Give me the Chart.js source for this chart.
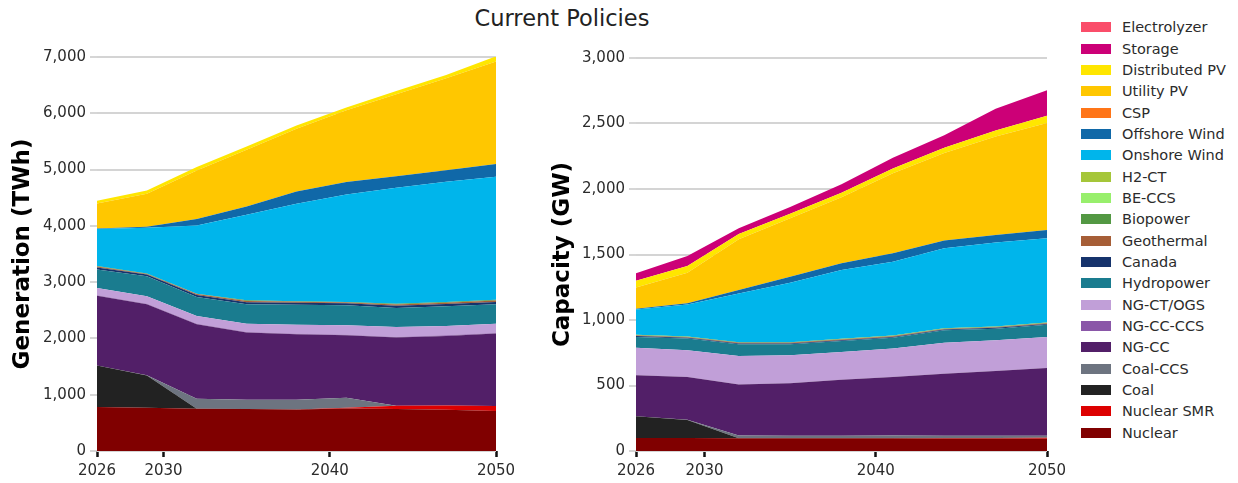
<!DOCTYPE html>
<html>
<head>
<meta charset="utf-8">
<script src="https://cdn.jsdelivr.net/npm/chart.js@4.4.1/dist/chart.umd.min.js"></script>
<style>
  html, body { margin: 0; padding: 0; background: #ffffff; }
  #wrap { position: relative; width: 1238px; height: 483px; overflow: hidden; font-family: "DejaVu Sans", sans-serif; }
  #title { position: absolute; left: 362px; width: 400px; top: 4px; text-align: center; font-size: 22.5px; color: #222; line-height: 28px; }
  #genCanvas { position: absolute; left: 0; top: 0; }
  #capCanvas { position: absolute; left: 540px; top: 0; }
  #legend { position: absolute; left: 1080px; top: 0; }
  .item { position: absolute; left: 0; height: 20px; white-space: nowrap; }
  .box { position: absolute; left: 1px; top: 5px; width: 30px; height: 10px; }
  .lbl { position: absolute; left: 42px; top: 0; font-size: 14.5px; line-height: 20px; color: #2b2b2b; }
</style>
</head>
<body>
<div id="wrap">
  <div id="title">Current Policies</div>
  <canvas id="genCanvas" width="540" height="483"></canvas>
  <canvas id="capCanvas" width="540" height="483"></canvas>
  <div id="legend"></div>
</div>
<script>
// ---------- DATA ----------
const years = [2026, 2029, 2032, 2035, 2038, 2041, 2044, 2047, 2050];
const xTicks = [2026, 2030, 2040, 2050];
const genTicksMax = 7000;
const capTicksMax = 3000;

// series, bottom to top
const seriesNames = ["Nuclear", "Nuclear SMR", "Coal", "Coal-CCS", "NG-CC", "NG-CC-CCS", "NG-CT/OGS",
  "Hydropower", "Canada", "Geothermal", "Biopower", "BE-CCS", "H2-CT", "Onshore Wind", "Offshore Wind",
  "CSP", "Utility PV", "Distributed PV", "Storage", "Electrolyzer"];
const seriesColors = ["#800000", "#dd0000", "#222222", "#6d7480", "#521f68", "#8a57a8", "#c19fd8",
  "#1a7c8f", "#16336c", "#a65e37", "#539843", "#98ef6c", "#a5c639", "#00b5eb", "#1068a8",
  "#ff7518", "#ffc700", "#ffe600", "#cc0077", "#fa4d6a"];

// Generation (TWh)
const genNuclear      = [780, 768, 750, 744, 738, 756, 744, 732, 709];
const genNuclearSMR   = [0, 0, 0, 0, 0, 12, 60, 77, 89];
const genCoal         = [741, 575, 0, 0, 0, 0, 0, 0, 0];
const genCoalCCS      = [0, 5, 178, 166, 172, 178, 0, 0, 0];
const genNGCC         = [1236, 1260, 1324, 1194, 1164, 1111, 1211, 1236, 1288];
const genNGCCCCS      = [10, 10, 10, 10, 10, 10, 10, 10, 10];
const genNGCT         = [130, 130, 137, 149, 161, 166, 178, 166, 167];
const genHydro        = [326, 356, 338, 343, 355, 355, 338, 350, 343];
const genCanada       = [35, 30, 35, 38, 35, 35, 40, 40, 42];
const genGeothermal   = [18, 12, 16, 20, 16, 17, 22, 22, 25];
const genBiopower     = [12, 6, 8, 13, 8, 8, 15, 15, 16];
const genBECCS        = [0, 0, 0, 0, 0, 0, 0, 0, 0];
const genH2CT         = [0, 0, 0, 0, 0, 0, 0, 0, 0];
const genOnshore      = [658, 813, 1210, 1519, 1733, 1911, 2058, 2135, 2183];
const genOffshore     = [5, 18, 118, 148, 219, 219, 207, 207, 226];
const genCSP          = [0, 0, 0, 0, 0, 0, 0, 0, 0];
const genUtilityPV    = [446, 587, 860, 1008, 1114, 1274, 1453, 1631, 1820];
const genDistPV       = [47, 60, 60, 60, 60, 50, 60, 60, 94];
const genStorage      = [0, 0, 0, 0, 0, 0, 0, 0, 0];
const genElectrolyzer = [0, 0, 0, 0, 0, 0, 0, 0, 0];

// Capacity (GW)
const capNuclear      = [100, 100, 98, 97, 97, 97, 96, 95, 94];
const capNuclearSMR   = [0, 0, 0, 0, 0, 1, 3, 5, 7];
const capCoal         = [166, 136, 0, 0, 0, 0, 0, 0, 0];
const capCoalCCS      = [0, 2, 20, 20, 20, 20, 18, 17, 16];
const capNGCC         = [313, 326, 390, 401, 427, 446, 472, 493, 516];
const capNGCCCCS      = [2, 2, 2, 2, 2, 2, 2, 2, 2];
const capNGCT         = [208, 203, 216, 211, 210, 216, 236, 233, 236];
const capHydro        = [82, 89, 89, 84, 84, 83, 94, 89, 93];
const capCanada       = [6, 6, 6, 6, 6, 6, 6, 6, 6];
const capGeothermal   = [5, 5, 5, 5, 5, 5, 5, 5, 5];
const capBiopower     = [4, 4, 4, 4, 4, 4, 4, 4, 4];
const capBECCS        = [0, 0, 0, 0, 0, 0, 0, 0, 0];
const capH2CT         = [1, 1, 1, 1, 1, 1, 1, 1, 1];
const capOnshore      = [194, 245, 372, 454, 526, 564, 610, 641, 644];
const capOffshore     = [5, 8, 26, 46, 51, 64, 59, 58, 63];
const capCSP          = [0, 0, 0, 0, 0, 0, 0, 0, 0];
const capUtilityPV    = [163, 234, 387, 446, 504, 612, 668, 752, 816];
const capDistPV       = [51, 51, 40, 35, 35, 35, 40, 45, 56];
const capStorage      = [56, 77, 45, 51, 64, 82, 97, 166, 194];
const capElectrolyzer = [0, 0, 0, 0, 0, 0, 0, 0, 0];

const genSeries = [genNuclear, genNuclearSMR, genCoal, genCoalCCS, genNGCC, genNGCCCCS, genNGCT,
  genHydro, genCanada, genGeothermal, genBiopower, genBECCS, genH2CT, genOnshore, genOffshore,
  genCSP, genUtilityPV, genDistPV, genStorage, genElectrolyzer];
const capSeries = [capNuclear, capNuclearSMR, capCoal, capCoalCCS, capNGCC, capNGCCCCS, capNGCT,
  capHydro, capCanada, capGeothermal, capBiopower, capBECCS, capH2CT, capOnshore, capOffshore,
  capCSP, capUtilityPV, capDistPV, capStorage, capElectrolyzer];

// ---------- CHARTS ----------
function makeDatasets(series) {
  return series.map((vals, i) => ({
    label: seriesNames[i],
    data: years.map((y, j) => ({ x: y, y: vals[j] })),
    backgroundColor: seriesColors[i],
    borderColor: seriesColors[i],
    borderWidth: 0,
    pointRadius: 0,
    pointHoverRadius: 0,
    tension: 0,
    fill: i === 0 ? 'origin' : '-1'
  }));
}

function makeChart(canvasId, series, yMax, yStep, yTitle, yWidth, padRight, padTop) {
  return new Chart(document.getElementById(canvasId), {
    type: 'line',
    data: { datasets: makeDatasets(series) },
    options: {
      responsive: false,
      animation: false,
      events: [],
      layout: { padding: { top: padTop, right: padRight, bottom: 0, left: 0 } },
      plugins: { legend: { display: false }, tooltip: { enabled: false }, title: { display: false } },
      scales: {
        x: {
          type: 'linear',
          min: 2026, max: 2050,
          afterBuildTicks: (s) => { s.ticks = xTicks.map(v => ({ value: v })); },
          afterFit: (s) => { s.height = 32; },
          grid: { display: true, drawOnChartArea: false, drawTicks: true, tickLength: 6, tickColor: '#111', tickWidth: 2.5 },
          border: { display: false },
          ticks: {
            padding: 5,
            color: '#2b2b2b',
            font: { family: 'DejaVu Sans', size: 15 },
            maxRotation: 0,
            autoSkip: false,
            callback: (v) => String(v)
          }
        },
        y: {
          stacked: true,
          min: 0, max: yMax,
          afterFit: (s) => { s.width = yWidth; },
          grid: { color: '#d4d4d4', lineWidth: 2, drawTicks: true, tickLength: 7, tickColor: '#c8c8c8', tickWidth: 1.5 },
          border: { display: false },
          ticks: {
            stepSize: yStep,
            padding: 4,
            color: '#2b2b2b',
            font: { family: 'DejaVu Sans', size: 15 },
            callback: (v) => v.toLocaleString('en-US')
          },
          title: {
            display: true,
            text: yTitle,
            color: '#000',
            font: { family: 'DejaVu Sans', size: 23, weight: 'bold' },
            padding: { top: 9, bottom: 0 }
          }
        }
      }
    }
  });
}

makeChart('genCanvas', genSeries, genTicksMax, 1000, 'Generation (TWh)', 97, 44, 57);
makeChart('capCanvas', capSeries, capTicksMax, 500, 'Capacity (GW)', 96, 33, 58);

// ---------- LEGEND (top to bottom: reverse of stacking) ----------
const legend = document.getElementById('legend');
const order = seriesNames.map((n, i) => i).reverse();
order.forEach((idx, k) => {
  const item = document.createElement('div');
  item.className = 'item';
  item.style.top = (17.3 + k * 21.34) + 'px';
  const box = document.createElement('div');
  box.className = 'box';
  box.style.background = seriesColors[idx];
  const lbl = document.createElement('div');
  lbl.className = 'lbl';
  lbl.textContent = seriesNames[idx];
  item.appendChild(box);
  item.appendChild(lbl);
  legend.appendChild(item);
});
</script>
</body>
</html>
